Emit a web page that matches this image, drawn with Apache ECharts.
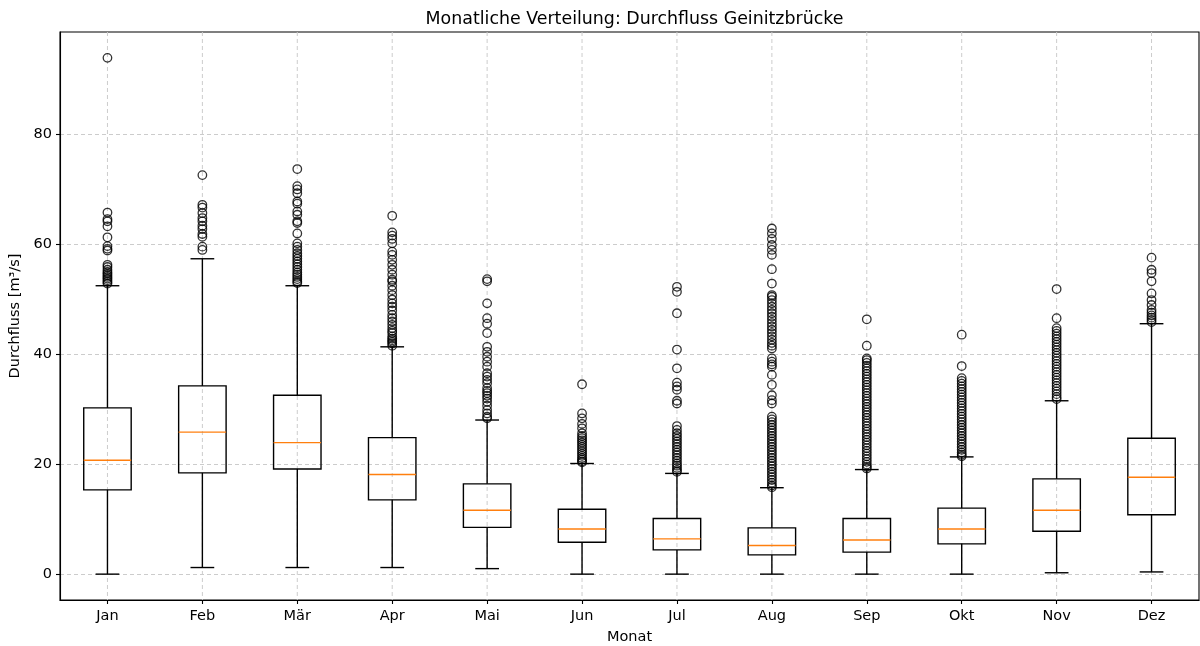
<!DOCTYPE html>
<html>
<head>
<meta charset="utf-8">
<script src="https://cdn.jsdelivr.net/npm/echarts@6/dist/echarts.min.js"></script>
<style>html,body{margin:0;padding:0;background:#fff}#c{width:1200px;height:646px}</style>
</head>
<body>
<div id="c"></div>
<script>
const months = ['Jan','Feb','Mär','Apr','Mai','Jun','Jul','Aug','Sep','Okt','Nov','Dez'];
const whiskerLow  = [0, 1.2, 1.2, 1.2, 1.0, 0, 0, 0, 0, 0, 0.25, 0.4];
const q1          = [15.3, 18.4, 19.1, 13.5, 8.5, 5.8, 4.4, 3.5, 4.0, 5.5, 7.8, 10.8];
const median      = [20.7, 25.8, 23.9, 18.1, 11.6, 8.2, 6.4, 5.2, 6.2, 8.2, 11.6, 17.6];
const q3          = [30.2, 34.2, 32.5, 24.8, 16.4, 11.8, 10.1, 8.4, 10.1, 12.0, 17.3, 24.7];
const whiskerHigh = [52.4, 57.3, 52.4, 41.3, 28.0, 20.1, 18.3, 15.7, 19.0, 21.3, 31.5, 45.5];

const outJan = [93.8, 65.7, 64.5, 64.1, 63.2, 61.2, 59.6, 59.1, 58.8, 56.2, 55.8, 55.3, 54.9, 54.6, 54.3, 54.0, 53.7, 53.4, 53.1, 52.8];
const outFeb = [72.5, 67.1, 66.6, 65.6, 64.7, 64.1, 63.3, 62.7, 61.8, 61.3, 59.5, 58.9];
const outMar = [73.6, 70.5, 69.9, 69.2, 67.7, 67.3, 65.9, 65.3, 64.1, 63.8, 61.9, 60.1, 59.5, 58.9, 58.3, 57.8, 57.3, 56.8, 56.3, 55.8, 55.3, 54.8, 54.4, 54.0, 53.6, 53.2, 52.9];
const outApr = [65.1, 62.1, 61.5, 60.9, 60.1, 58.6, 58.0, 57.1, 56.2, 55.3, 54.4, 53.5, 53.2, 52.4, 51.6, 50.7, 49.9, 49.2, 48.6, 47.9, 47.1, 46.5, 45.9, 45.3, 44.7, 44.2, 43.8, 43.2, 42.8, 42.5, 42.2, 41.9, 41.5];
const outMai = [53.6, 53.2, 49.2, 46.5, 45.5, 43.8, 41.3, 40.4, 39.5, 38.6, 37.7, 36.5, 35.9, 35.3, 34.7, 33.8, 33.3, 32.9, 32.4, 31.9, 31.3, 30.6, 29.8, 29.2, 28.6, 28.3];
const outJun = [34.5, 29.2, 28.3, 27.3, 26.5, 25.6, 25.1, 24.7, 24.3, 23.9, 23.5, 23.1, 22.7, 22.3, 21.9, 21.5, 21.1, 20.8, 20.5, 20.3];
const outJul = [52.2, 51.3, 47.4, 40.8, 37.4, 34.8, 34.1, 33.5, 31.5, 31.0, 26.9, 26.2, 25.6, 25.1, 24.6, 24.1, 23.6, 23.1, 22.6, 22.1, 21.6, 21.1, 20.6, 20.1, 19.7, 19.3, 18.9, 18.6];
const outAug = [62.8, 61.9, 60.9, 59.8, 58.9, 58.0, 55.4, 52.8, 50.7, 50.4, 49.8, 49.2, 48.6, 48.0, 47.4, 46.8, 46.2, 45.6, 45.0, 44.4, 43.8, 43.2, 42.6, 42.0, 41.5, 41.0, 39.2, 38.6, 38.1, 37.7, 36.2, 34.4, 32.5, 31.6, 31.0, 28.6, 28.1, 27.6, 27.1, 26.6, 26.1, 25.6, 25.1, 24.6, 24.1, 23.6, 23.1, 22.6, 22.1, 21.6, 21.1, 20.6, 20.1, 19.6, 19.1, 18.6, 18.1, 17.6, 17.1, 16.6, 16.1, 15.8];
const outSep = [46.3, 41.5, 39.2, 38.9, 38.4, 37.9, 37.4, 36.9, 36.4, 35.9, 35.4, 34.9, 34.4, 33.9, 33.4, 32.9, 32.4, 31.9, 31.4, 30.9, 30.4, 29.9, 29.4, 28.9, 28.4, 27.9, 27.4, 26.9, 26.4, 25.9, 25.4, 24.9, 24.4, 23.9, 23.4, 22.9, 22.4, 21.9, 21.4, 20.9, 20.4, 19.9, 19.5, 19.2];
const outOkt = [43.5, 37.8, 35.6, 35.1, 34.6, 34.1, 33.6, 33.1, 32.6, 32.1, 31.6, 31.1, 30.6, 30.1, 29.6, 29.1, 28.6, 28.1, 27.6, 27.1, 26.6, 26.1, 25.6, 25.1, 24.6, 24.1, 23.6, 23.1, 22.6, 22.1, 21.7, 21.4];
const outNov = [51.8, 46.5, 44.7, 44.2, 43.7, 43.2, 42.7, 42.2, 41.7, 41.2, 40.7, 40.2, 39.7, 39.2, 38.7, 38.2, 37.7, 37.2, 36.7, 36.2, 35.7, 35.2, 34.7, 34.2, 33.7, 33.2, 32.7, 32.2, 31.8];
const outDez = [57.5, 55.3, 54.7, 53.2, 51.0, 49.8, 48.9, 48.0, 47.5, 47.0, 46.6, 46.2, 45.8];
const outliers = [outJan, outFeb, outMar, outApr, outMai, outJun, outJul, outAug, outSep, outOkt, outNov, outDez];

const yTicks = [0, 20, 40, 60, 80];

const boxData = months.map((m, i) => [i, whiskerLow[i], q1[i], median[i], q3[i], whiskerHigh[i]]);
const outlierData = [];
outliers.forEach((arr, i) => arr.forEach(v => outlierData.push([i, v])));

const FONT = 'DejaVu Sans';
const LW = 1.4;

function renderBox(params, api) {
  const i = api.value(0);
  const band = api.size([1, 0])[0];
  const hw = band * 0.25, cw = band * 0.125;
  const x = api.coord([i, 0])[0];
  const yLo = api.coord([i, api.value(1)])[1];
  const yQ1 = api.coord([i, api.value(2)])[1];
  const yMed = api.coord([i, api.value(3)])[1];
  const yQ3 = api.coord([i, api.value(4)])[1];
  const yHi = api.coord([i, api.value(5)])[1];
  const ls = { stroke: '#000', lineWidth: LW, fill: null };
  return {
    type: 'group',
    children: [
      { type: 'line', shape: { x1: x, y1: yQ1, x2: x, y2: yLo }, style: ls },
      { type: 'line', shape: { x1: x, y1: yQ3, x2: x, y2: yHi }, style: ls },
      { type: 'line', shape: { x1: x - cw, y1: yLo, x2: x + cw, y2: yLo }, style: ls },
      { type: 'line', shape: { x1: x - cw, y1: yHi, x2: x + cw, y2: yHi }, style: ls },
      { type: 'rect', shape: { x: x - hw, y: yQ3, width: 2 * hw, height: yQ1 - yQ3 }, style: { stroke: '#000', lineWidth: LW, fill: 'rgba(0,0,0,0)' } },
      { type: 'line', shape: { x1: x - hw, y1: yMed, x2: x + hw, y2: yMed }, style: { stroke: '#ff7f0e', lineWidth: LW } }
    ]
  };
}

function renderVGrid(params, api) {
  const i = api.value(0);
  const x = api.coord([i, 0])[0];
  const cs = params.coordSys;
  return { type: 'line', shape: { x1: x, y1: cs.y, x2: x, y2: cs.y + cs.height },
           style: { stroke: '#cccccc', lineWidth: 1, lineDash: [4, 3] } };
}

const chart = echarts.init(document.getElementById('c'), null, { renderer: 'canvas' });
chart.setOption({
  animation: false,
  backgroundColor: '#fff',
  textStyle: { fontFamily: FONT },
  title: {
    text: 'Monatliche Verteilung: Durchfluss Geinitzbrücke',
    left: 629.5, top: 6, textAlign: 'center',
    textStyle: { fontFamily: FONT, fontSize: 17.4, fontWeight: 'normal', color: '#000' }
  },
  grid: { left: 60, right: 1, top: 32, bottom: 46, show: true, borderColor: '#000', borderWidth: 1.1, backgroundColor: 'transparent', containLabel: false, outerBoundsMode: 'none' },
  xAxis: {
    type: 'category', data: months, boundaryGap: true,
    name: 'Monat', nameLocation: 'middle', nameGap: 30,
    nameTextStyle: { fontFamily: FONT, fontSize: 14.5, color: '#000' },
    axisLine: { show: true, onZero: false, lineStyle: { color: '#000', width: 1.1 } },
    axisTick: { show: true, alignWithLabel: true, length: 4, lineStyle: { color: '#000', width: 1.1 } },
    axisLabel: { fontFamily: FONT, fontSize: 14.5, color: '#000', margin: 9 },
    splitLine: { show: false }
  },
  yAxis: {
    type: 'value', min: -4.7, max: 98.5, splitNumber: 5,
    name: 'Durchfluss [m³/s]', nameLocation: 'middle', nameGap: 34, nameRotate: 90,
    nameTextStyle: { fontFamily: FONT, fontSize: 14.5, color: '#000' },
    axisLine: { show: true, onZero: false, lineStyle: { color: '#000', width: 1.1 } },
    axisTick: { show: true, length: 4, customValues: yTicks, lineStyle: { color: '#000', width: 1.1 } },
    axisLabel: { fontFamily: FONT, fontSize: 14.5, color: '#000', margin: 8, customValues: yTicks,
      formatter: v => (yTicks.indexOf(v) >= 0 ? String(v) : '') },
    splitLine: { show: true, lineStyle: { color: '#cccccc', width: 1, type: [4, 3] } }
  },
  series: [
    { type: 'custom', name: 'vgrid', data: months.map((m, i) => [i]), renderItem: renderVGrid, z: 1, silent: true, encode: { x: 0 } },
    { type: 'custom', name: 'boxes', data: boxData, renderItem: renderBox, z: 3, encode: { x: 0, y: [1, 2, 3, 4, 5] } },
    { type: 'scatter', name: 'outliers', data: outlierData, z: 4, symbol: 'circle', symbolSize: 8.5,
      itemStyle: { color: 'rgba(0,0,0,0)', borderColor: '#000', borderWidth: 1.3 } }
  ]
});
</script>
</body>
</html>
